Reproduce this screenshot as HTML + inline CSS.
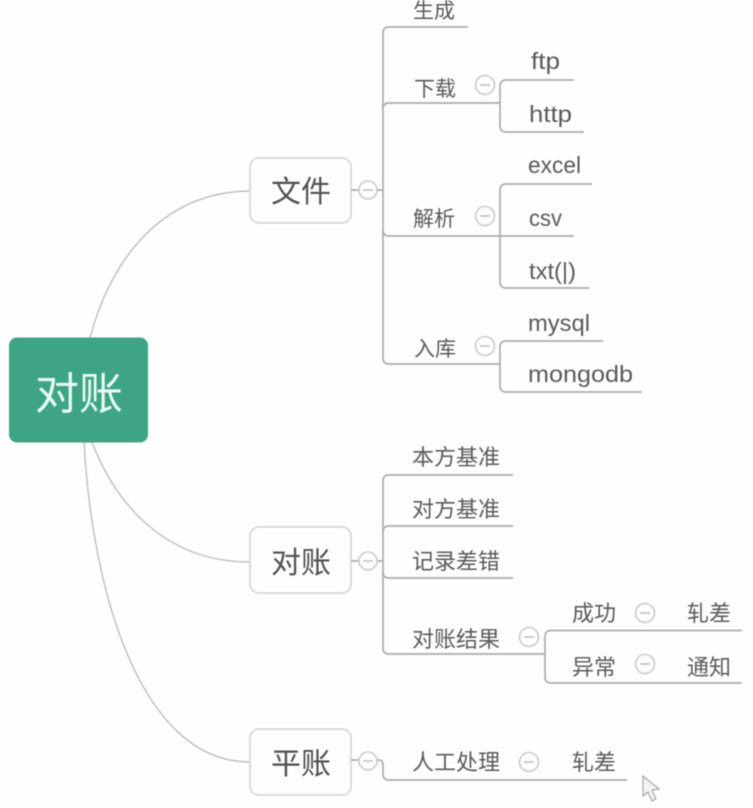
<!DOCTYPE html>
<html>
<head>
<meta charset="utf-8">
<style>
html,body{margin:0;padding:0;background:#fefefe;}
svg{display:block;filter:blur(0.5px);}
text{font-family:"Liberation Sans","Noto Sans CJK SC",sans-serif;fill:#5a5a5a;}
.l{font-size:23px;}
.z{font-size:21px;}
.y{font-size:22px;}
.t{font-size:30px;fill:#505050;text-anchor:middle;}
.c{fill:none;stroke:#bdbdbd;stroke-width:1.4;}
.b{fill:#fefefe;stroke:#d6d6d6;stroke-width:1.7;}
.line{fill:none;stroke:#adadad;stroke-width:1.7;}
.m{fill:#fefefe;stroke:#cacaca;stroke-width:1.6;}
.d{stroke:#b8b8b8;stroke-width:1.4;}
</style>
</head>
<body>
<svg width="753" height="808" viewBox="0 0 753 808" xmlns="http://www.w3.org/2000/svg">
<rect width="753" height="808" fill="#fefefe"/>
<!-- root curves -->
<path class="c" d="M90 338C110 262 160 192 250 191"/>
<path class="c" d="M92 442C118 510 170 562 250 562"/>
<path class="c" d="M84 442C92 590 140 762 250 762"/>
<!-- root -->
<rect x="9" y="337.500" width="139" height="105" rx="8" fill="#3fa485"/>
<text x="79" y="409" font-size="44" text-anchor="middle" style="fill:#e6fbf3">对账</text>
<!-- topic boxes -->
<rect class="b" x="250" y="158" width="101" height="65" rx="9"/>
<text class="t" x="301" y="202">文件</text>
<rect class="b" x="250" y="527" width="101" height="66" rx="9"/>
<text class="t" x="301" y="573">对账</text>
<rect class="b" x="250" y="729" width="101" height="66" rx="9"/>
<text class="t" x="301" y="774">平账</text>

<!-- branch 1 -->
<path class="line" d="M351 190H383"/>
<path class="line" d="M468 27H389Q383 27 383 33V358Q383 364 389 364H500"/>
<path class="line" d="M383 109Q383 103 389 103H500"/>
<path class="line" d="M383 230Q383 236 389 236H500"/>
<path class="line" d="M574 80H506Q500 80 500 86V126Q500 132 506 132H584"/>
<path class="line" d="M592 184H506Q500 184 500 190V282Q500 288 506 288H589"/>
<path class="line" d="M500 236H574"/>
<path class="line" d="M603 341H506Q500 341 500 347V386Q500 392 506 392H642"/>
<!-- branch 2 -->
<path class="line" d="M351 561H383"/>
<path class="line" d="M513 475H389Q383 475 383 481V648Q383 654 389 654H545"/>
<path class="line" d="M383 532Q383 526 389 526H513"/>
<path class="line" d="M383 572Q383 578 389 578H513"/>
<path class="line" d="M742 630.500H551Q545 630.500 545 636.500V677Q545 683 551 683H742"/>
<!-- branch 3 -->
<path class="line" d="M351 760H379Q383 760 383 765V774Q383 780 389 780H627"/>

<!-- collapse buttons -->
<g>
<circle class="m" cx="368" cy="190" r="9"/><path class="d" d="M363 190H373"/>
<circle class="m" cx="485" cy="85" r="9.500"/><path class="d" d="M480 85H490"/>
<circle class="m" cx="485" cy="216" r="9.500"/><path class="d" d="M480 216H490"/>
<circle class="m" cx="485" cy="346" r="9.500"/><path class="d" d="M480 346H490"/>
<circle class="m" cx="368" cy="561" r="9"/><path class="d" d="M363 561H373"/>
<circle class="m" cx="529" cy="637" r="9.500"/><path class="d" d="M524 637H534"/>
<circle class="m" cx="645" cy="613" r="9.500"/><path class="d" d="M640 613H650"/>
<circle class="m" cx="645" cy="664" r="9.500"/><path class="d" d="M640 664H650"/>
<circle class="m" cx="368" cy="761" r="9"/><path class="d" d="M363 761H373"/>
<circle class="m" cx="529" cy="762" r="9.500"/><path class="d" d="M524 762H534"/>
</g>

<!-- labels -->
<text class="z" x="413" y="18">生成</text>
<text class="z" x="414" y="96">下载</text>
<text class="z" x="413" y="226">解析</text>
<text class="z" x="414" y="356">入库</text>
<text class="l" x="531" y="69" textLength="29" lengthAdjust="spacingAndGlyphs">ftp</text>
<text class="l" x="529" y="122" textLength="43" lengthAdjust="spacingAndGlyphs">http</text>
<text class="l" x="528" y="173" textLength="53" lengthAdjust="spacingAndGlyphs">excel</text>
<text class="l" x="529" y="226" textLength="33" lengthAdjust="spacingAndGlyphs">csv</text>
<text class="l" x="529" y="279" textLength="47" lengthAdjust="spacingAndGlyphs">txt(|)</text>
<text class="l" x="528" y="331" textLength="62" lengthAdjust="spacingAndGlyphs">mysql</text>
<text class="l" x="528" y="382" textLength="105" lengthAdjust="spacingAndGlyphs">mongodb</text>
<text class="y" x="412" y="465">本方基准</text>
<text class="y" x="412" y="517">对方基准</text>
<text class="y" x="412" y="569">记录差错</text>
<text class="y" x="412" y="647">对账结果</text>
<text class="y" x="572" y="621">成功</text>
<text class="y" x="572" y="675">异常</text>
<text class="y" x="687" y="621">轧差</text>
<text class="y" x="687" y="675">通知</text>
<text class="y" x="412" y="770">人工处理</text>
<text class="y" x="572" y="770">轧差</text>

<!-- cursor -->
<path d="M643 776V796L648 792L652 801L656 799L652 790L659 789Z" fill="#f4f4f4" stroke="#a8a8a8" stroke-width="1.2"/>
</svg>
</body>
</html>
